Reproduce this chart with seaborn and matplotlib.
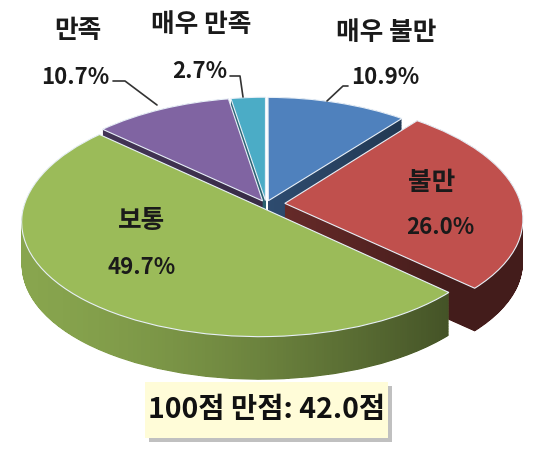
import numpy as np
import seaborn as sns
import matplotlib.pyplot as plt
import matplotlib.transforms as mtransforms
from matplotlib.patches import Rectangle, PathPatch
from matplotlib.path import Path
from matplotlib.colors import to_rgb

sns.set_theme(style="white")
plt.rcParams['font.family'] = ['Noto Sans CJK KR', 'DejaVu Sans']

# data (clockwise from 12 o'clock)
labels = ["매우 불만", "불만", "보통", "만족", "매우 만족"]
shares = [10.9, 26.0, 49.7, 10.7, 2.7]
explode = [0.03, 0.08, 0.035, 0.03, 0.03]
colors = ["#4f81bd", "#c0504d", "#9bbb59", "#8064a2", "#4bacc6"]
side_shade = [0.75, 0.7, 0.88, 0.55, 0.72]
score_text = "100점 만점: 42.0점"

W, H = 540, 455
fig = plt.figure(figsize=(W / 100, H / 100), dpi=100)
ax = fig.add_axes([0, 0, 1, 1])

# map data units to pixels
cx, cy, rx, ry = 266, 204, 236, 116.5
xlim = (-cx / rx, (W - cx) / rx)
ylim = (-(H - cy) / ry, cy / ry)


class Perspective(mtransforms.Transform):
    """tilt the pie: back half narrower/shorter than the front half"""
    input_dims = output_dims = 2
    is_separable = False
    has_inverse = False

    def __init__(self, k=0.13, m=0.107):
        super().__init__()
        self.k, self.m = k, m

    def transform_non_affine(self, xy):
        xy = np.asarray(xy, dtype=float)
        x, y = xy[:, 0], xy[:, 1]
        return np.column_stack([x * (1 - self.k * y), y * (1 - self.m * y)])


persp = Perspective()
depth = 0.37
n_layers = 60

# top face
wedges, _ = ax.pie(shares, explode=explode, colors=colors, startangle=90,
                   counterclock=False, radius=1,
                   wedgeprops=dict(linewidth=0.8, edgecolor="#e8f0f8"))

# horizontal shading for the side walls (lighter left, darker right)
t = np.clip((np.linspace(0, W, 300) - 20) / 430, 0, 1)
shade = np.zeros((1, 300, 4))
shade[0, :, 3] = 0.5 * t ** 1.5

# side walls: union of the slice outline swept downwards
for w, col, s in zip(wedges, colors, side_shade):
    path = w.get_path()
    verts = persp.transform_non_affine(path.vertices)
    layers = [Path(verts - [0, z], path.codes)
              for z in np.linspace(0, depth, n_layers)]
    wall = Path.make_compound_path(*layers)
    mid = np.deg2rad((w.theta1 + w.theta2) / 2)
    zo = 2 - np.sin(mid)  # back slices first
    base = tuple(c * s for c in to_rgb(col))
    patch = PathPatch(wall, fc=base, ec="none", lw=0, zorder=zo)
    ax.add_patch(patch)
    im = ax.imshow(shade, extent=(*xlim, *ylim), aspect="auto",
                   zorder=zo + 0.01, interpolation="bilinear")
    im.set_clip_path(patch)

for w in wedges:
    w.set_transform(persp + ax.transData)
    w.set_zorder(10)

ax.set_aspect("auto")
ax.set_xlim(*xlim)
ax.set_ylim(*ylim)
ax.axis("off")


def px(x, y):
    return x / W, 1 - y / H


def label(x, y, s, size):
    fig.text(*px(x, y), s, ha="center", va="center", fontsize=size,
             fontweight="bold", color="#1a1a1a")


# outside labels
label(386, 32, labels[0], 18.5)
label(385, 78, f"{shares[0]:.1f}%", 16)
label(78, 30, labels[3], 18.5)
label(75, 77, f"{shares[3]:.1f}%", 16)
label(201, 24, labels[4], 18.5)
label(200, 72, f"{shares[4]:.1f}%", 16)
# inside labels
label(432, 183, labels[1], 18.5)
label(440, 227, f"{shares[1]:.1f}%", 16)
label(142, 220, labels[2], 18.5)
label(142, 267, f"{shares[2]:.1f}%", 16)

# leader lines
lines = [
    [(348, 86), (343, 86), (327, 101)],
    [(113, 81), (125, 81), (157, 105)],
    [(230, 76), (240, 76), (243, 97)],
]
for pts in lines:
    xs, ys = zip(*[px(*p) for p in pts])
    fig.add_artist(plt.Line2D(xs, ys, color="#333333", lw=1.2,
                              transform=fig.transFigure))

# score box with shadow
bx0, by0, bx1, by1 = 145, 382, 388, 438
fig.add_artist(Rectangle(px(bx0 + 4, by1 + 4), (bx1 - bx0) / W, (by1 - by0) / H,
                         transform=fig.transFigure, fc="#c0c0c0", ec="none"))
fig.add_artist(Rectangle(px(bx0, by1), (bx1 - bx0) / W, (by1 - by0) / H,
                         transform=fig.transFigure, fc="#fffcd8", ec="none"))
fig.text(*px((bx0 + bx1) / 2, (by0 + by1) / 2), score_text, ha="center",
         va="center", fontsize=20.5, fontweight="bold", color="#111111")

fig.savefig("out.png", dpi=100)
